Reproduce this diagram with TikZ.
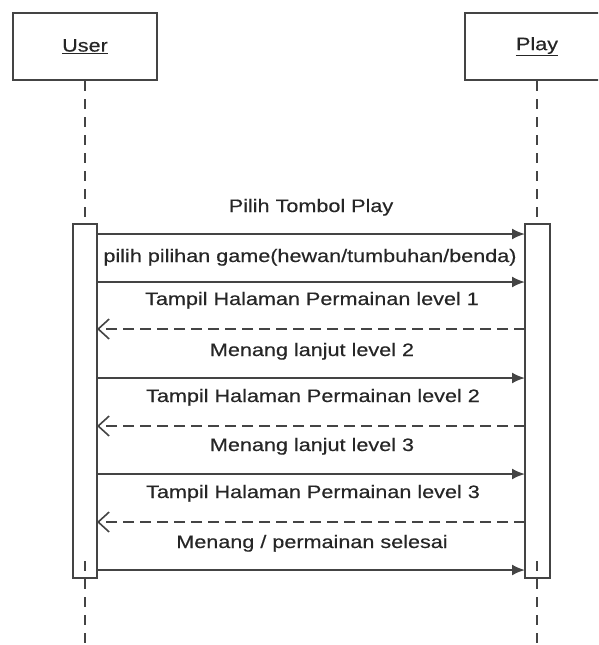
\documentclass[tikz,border=0pt]{standalone}
\usepackage{fontspec}
\setmainfont{Liberation Sans}[FakeStretch=1.2,FakeBold=0.4]
\usetikzlibrary{arrows.meta}
\definecolor{ink}{HTML}{444444}
\definecolor{txt}{HTML}{262626}
\tikzset{
  actor/.style={draw=ink, line width=2.2pt, fill=white, minimum width=144pt, minimum height=67pt, inner sep=0pt, font=\fontsize{18}{20}\selectfont, text=txt},
  actbar/.style={draw=ink, line width=2pt, fill=white},
  lifeline/.style={draw=ink, line width=2pt, dash pattern=on 10pt off 8pt},
  callmsg/.style={draw=ink, line width=2pt, -{Latex[length=13pt,width=11pt]}},
  replymsg/.style={draw=ink, line width=2pt, dash pattern=on 11pt off 6pt, -{Straight Barb[length=11pt,width=20pt,line width=1.6pt]}},
  msglabel/.style={font=\fontsize{18}{20}\selectfont, text=txt, inner sep=0pt, anchor=base}
}
\begin{document}
\begin{tikzpicture}[x=1pt, y=-1pt]
\useasboundingbox (0,0) rectangle (598,645);
\clip (0,0) rectangle (598,645);
\fill[white] (0,0) rectangle (598,645);

% actors
\node[actor] (user) at (85,46.5) {\underline{User}};
\node[actor] (play) at (537,46.5) {\underline{Play}};

% lifelines above the activation bars
\coordinate (uA) at (85,224);
\coordinate (pA) at (537,224);
\draw[lifeline] (user.south) -- (uA);
\draw[lifeline] (play.south) -- (pA);

% activation bars
\draw[actbar] (73,224) rectangle (97,578);
\draw[actbar] (525,224) rectangle (550,578);

% lifelines below the activation bars
\coordinate (uB) at (85,561);
\coordinate (uE) at (85,645);
\coordinate (pB) at (537,561);
\coordinate (pE) at (537,645);
\draw[lifeline] (uB) -- (uE);
\draw[lifeline] (pB) -- (pE);

% message end points
\foreach \n/\y in {1/234,2/282,3/329,4/378,5/426,6/474,7/522,8/570}{
  \coordinate (u\n) at (97,\y);
  \coordinate (p\n) at (525,\y);
}

% messages
\draw[callmsg] (u1) -- (p1);
\node[msglabel] (m1) at (311,212) {Pilih Tombol Play};
\draw[callmsg] (u2) -- (p2);
\node[msglabel] (m2) at (310,262) {pilih pilihan game(hewan/tumbuhan/benda)};
\draw[replymsg] (p3) -- (u3);
\node[msglabel] (m3) at (312,305) {Tampil Halaman Permainan level 1};
\draw[callmsg] (u4) -- (p4);
\node[msglabel] (m4) at (312,356) {Menang lanjut level 2};
\draw[replymsg] (p5) -- (u5);
\node[msglabel] (m5) at (313,402) {Tampil Halaman Permainan level 2};
\draw[callmsg] (u6) -- (p6);
\node[msglabel] (m6) at (312,451) {Menang lanjut level 3};
\draw[replymsg] (p7) -- (u7);
\node[msglabel] (m7) at (313,498) {Tampil Halaman Permainan level 3};
\draw[callmsg] (u8) -- (p8);
\node[msglabel] (m8) at (312,548) {Menang / permainan selesai};
\end{tikzpicture}
\end{document}
